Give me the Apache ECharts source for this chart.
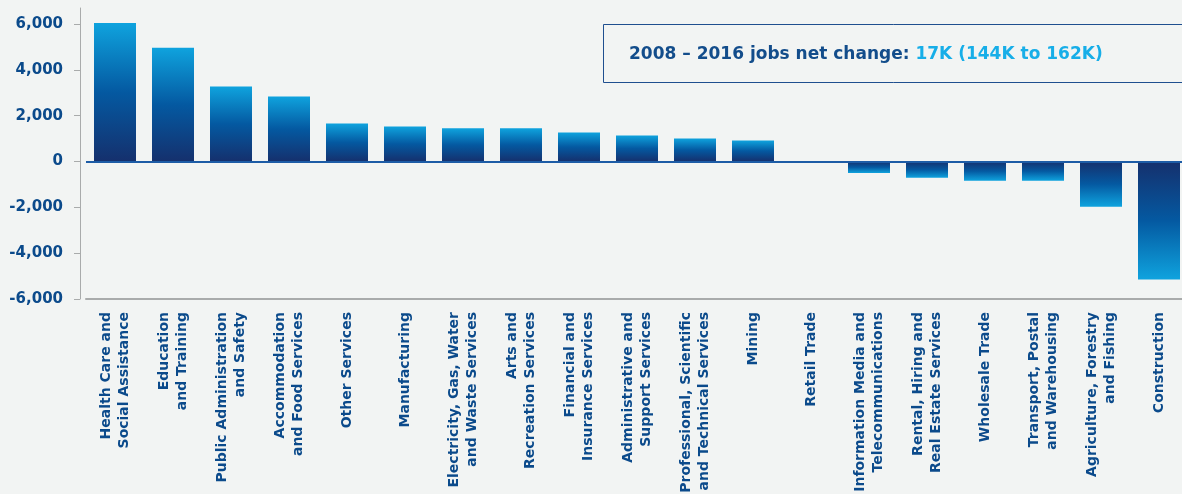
<!DOCTYPE html>
<html>
<head>
<meta charset="utf-8">
<script src="https://cdn.jsdelivr.net/npm/echarts@6/dist/echarts.min.js"></script>
<style>
  html, body { margin: 0; padding: 0; background: #f2f4f3; }
  #chart { width: 1182px; height: 494px; }
</style>
</head>
<body>
<div id="chart"></div>
<script>
const categories = [
  'Health Care and\nSocial Assistance',
  'Education\nand Training',
  'Public Administration\nand Safety',
  'Accommodation\nand Food Services',
  'Other Services',
  'Manufacturing',
  'Electricity, Gas, Water\nand Waste Services',
  'Arts and\nRecreation Services',
  'Financial and\nInsurance Services',
  'Administrative and\nSupport Services',
  'Professional, Scientific\nand Technical Services',
  'Mining',
  'Retail Trade',
  'Information Media and\nTelecommunications',
  'Rental, Hiring and\nReal Estate Services',
  'Wholesale Trade',
  'Transport, Postal\nand Warehousing',
  'Agriculture, Forestry\nand Fishing',
  'Construction'
]
const netChange = [6050, 4970, 3270, 2840, 1660, 1530, 1450, 1450, 1270, 1140, 1010, 920, 0,
  -500, -710, -840, -840, -1970, -5150]
const yTicks = [-6000, -4000, -2000, 0, 2000, 4000, 6000]

const DARK = '#0b4a8b'
const FONT = '"DejaVu Sans", sans-serif'

function barGradient(value) {
  const stops = [
    { offset: 0, color: '#0fa3de' },
    { offset: 0.5, color: '#0459a1' },
    { offset: 1, color: '#15306d' }
  ]
  if (value < 0) {
    stops.reverse().forEach((s, i) => { s.offset = i === 0 ? 0 : i === 1 ? 0.5 : 1 })
  }
  return new echarts.graphic.LinearGradient(0, 0, 0, 1, stops)
}

const chart = echarts.init(document.getElementById('chart'))

const option = {
  backgroundColor: '#f2f4f3',
  animation: false,
  grid: { left: 86, right: -6, top: 8, bottom: 195, outerBoundsMode: 'none' },
  xAxis: {
    type: 'category',
    data: categories,
    position: 'bottom',
    axisLine: { onZero: false, lineStyle: { color: '#a9abab', width: 2 } },
    axisTick: { show: false },
    axisLabel: {
      interval: 0,
      rotate: 90,
      margin: 13,
      color: DARK,
      fontFamily: FONT,
      fontWeight: 'bold',
      fontSize: 14,
      lineHeight: 18
    }
  },
  yAxis: {
    type: 'value',
    min: -6000,
    max: 6700,
    offset: 6,
    splitLine: { show: false },
    axisLine: { show: true, lineStyle: { color: '#a9abab', width: 1 } },
    axisTick: { show: true, length: 6, customValues: yTicks, lineStyle: { color: '#a9abab' } },
    axisLabel: {
      customValues: yTicks,
      margin: 17,
      color: DARK,
      fontFamily: FONT,
      fontWeight: 'bold',
      fontSize: 15,
      formatter: v => v.toLocaleString('en-US')
    }
  },
  series: [
    {
      type: 'bar',
      barWidth: 42,
      data: netChange.map(v => ({ value: v, itemStyle: { color: barGradient(v) } })),
      markLine: {
        silent: true,
        symbol: 'none',
        label: { show: false },
        lineStyle: { color: '#1d5ca6', width: 2, type: 'solid' },
        data: [{ yAxis: 0 }]
      }
    }
  ],
  graphic: [
    {
      type: 'rect',
      left: 603,
      top: 24,
      shape: { width: 620, height: 58 },
      style: { fill: 'transparent', stroke: '#1f4f8f', lineWidth: 1 }
    },
    {
      type: 'text',
      left: 629,
      top: 46,
      style: {
        text: '{a|2008 \u2013 2016 jobs net change: }{b|17K (144K to 162K)}',
        rich: {
          a: { fill: '#134d8b', fontFamily: FONT, fontWeight: 'bold', fontSize: 17 },
          b: { fill: '#17aee8', fontFamily: FONT, fontWeight: 'bold', fontSize: 17 }
        }
      }
    }
  ]
}

chart.setOption(option)

window.addEventListener('resize', () => chart.resize())
</script>
</body>
</html>
